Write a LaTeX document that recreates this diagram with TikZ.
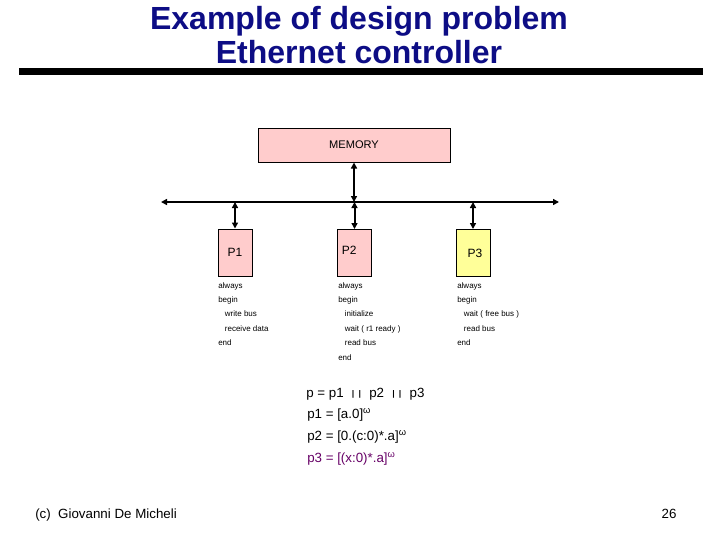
\documentclass[tikz,border=0pt]{standalone}
\usepackage{fontspec}
\setmainfont{Liberation Sans}
\usepackage{tikz}
\usetikzlibrary{arrows.meta,positioning,calc}
\definecolor{titleblue}{HTML}{0D0D85}
\definecolor{mempink}{HTML}{FFCCCC}
\definecolor{procyellow}{HTML}{FFFF99}
\definecolor{seqpurple}{HTML}{660066}
\tikzset{
  procbox/.style={rectangle,draw=black,line width=0.75pt,fill=mempink,
    minimum width=25.5pt,minimum height=35.25pt,inner sep=0pt,
    font=\fontsize{9}{10}\selectfont},
  membox/.style={rectangle,draw=black,line width=0.75pt,fill=mempink,
    minimum width=144pt,minimum height=25.5pt,inner sep=0pt,
    font=\fontsize{8.3}{10}\selectfont},
  busarr/.style={{Triangle[length=4.5pt,width=4.5pt]}-{Triangle[length=4.5pt,width=4.5pt]},
    line width=1.5pt,color=black},
  codetext/.style={anchor=north west,align=left,inner sep=0pt,
    font=\fontsize{6}{10.8}\selectfont},
  seqtext/.style={anchor=base west,inner sep=0pt,font=\fontsize{10}{12}\selectfont},
}
\newcommand{\parop}{\kern3pt\raisebox{0.6pt}{\scalebox{1}[0.62]{|\kern2.4pt|}}\kern3pt}
\begin{document}
\begin{tikzpicture}[x=0.75pt,y=-0.75pt]
  \useasboundingbox (0,0) rectangle (720,540);

  % title and rule
  \node[anchor=base,inner sep=0pt,font=\fontsize{24}{28}\bfseries,text=titleblue] (title1) at (359,29) {Example of design problem};
  \node[anchor=base,inner sep=0pt,font=\fontsize{24}{28}\bfseries,text=titleblue] (title2) at (359,63) {Ethernet controller};
  \fill[black] (19,68) rectangle (703,75);

  % memory, bus and processes
  \node[membox] (mem) at (354,145) {MEMORY};
  \coordinate (busL) at (161,202);
  \coordinate (busR) at (559,202);
  \node[procbox] (p1) at (235,252.5) {P1};
  \node[procbox] (p2) at (354.5,253) {\raisebox{3.5pt}{P2}\kern8pt\relax};
  \node[procbox,fill=procyellow] (p3) at (473,253) {\kern3pt P3};

  \draw[busarr] (busL) -- (busR);
  \draw[busarr] (mem.south) -- (mem.south |- busL);
  \draw[busarr] (p1.north |- busL) -- (p1.north);
  \draw[busarr] (p2.north |- busL) -- (p2.north);
  \draw[busarr] (p3.north |- busL) -- (p3.north);

  % process bodies
  \node[codetext] (code1) at (218,282) {always\\begin\\\hspace*{5pt}write bus\\\hspace*{5pt}receive data\\end};
  \node[codetext] (code2) at (338,282) {always\\begin\\\hspace*{5pt}initialize\\\hspace*{5pt}wait ( r1 ready )\\\hspace*{5pt}read bus\\end};
  \node[codetext] (code3) at (457,282) {always\\begin\\\hspace*{5pt}wait ( free bus )\\\hspace*{5pt}read bus\\end};

  % sequencing expressions
  \node[seqtext] (eq0) at (306,397) {p = p1\ \parop\ p2\ \parop\ p3};
  \node[seqtext] (eq1) at (307,418) {p1 = [a.0]\textsuperscript{ω}};
  \node[seqtext] (eq2) at (307,440) {p2 = [0.(c:0)*.a]\textsuperscript{ω}};
  \node[seqtext,text=seqpurple] (eq3) at (307,462) {p3 = [(x:0)*.a]\textsuperscript{ω}};

  % footer
  \node[anchor=base west,inner sep=0pt,font=\fontsize{10}{12}\selectfont] (author) at (35,518) {(c)\ \ Giovanni De Micheli};
  \node[anchor=base,inner sep=0pt,font=\fontsize{10}{12}\selectfont] (page) at (669,518) {26};
\end{tikzpicture}
\end{document}
